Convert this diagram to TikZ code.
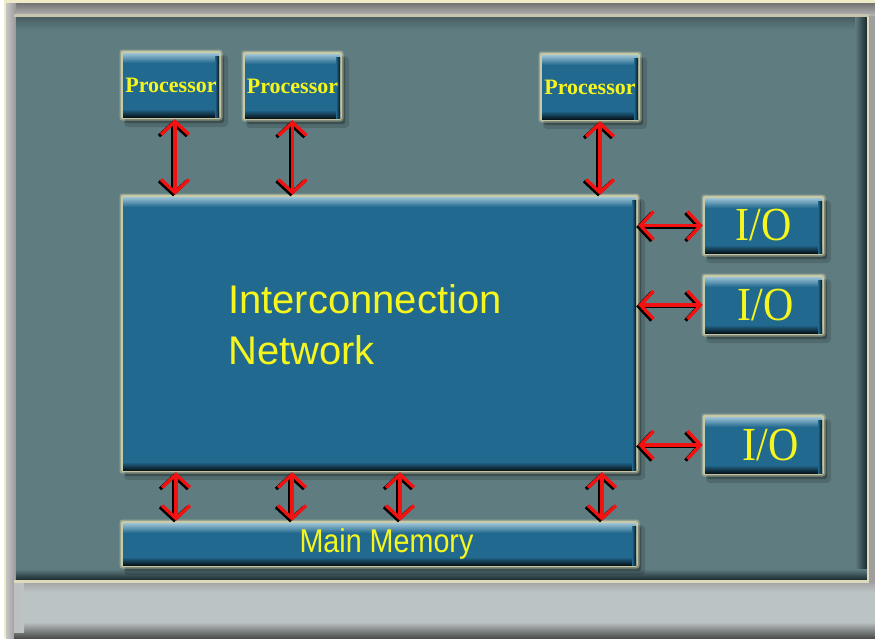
\documentclass[tikz,border=0pt]{standalone}
\usepackage{fontspec}
\setmainfont{Liberation Serif}
\newfontfamily\arialf{Liberation Sans}
\usetikzlibrary{arrows.meta}
\definecolor{panelc}{HTML}{5F7D81}
\definecolor{boxblue}{HTML}{21698F}
\definecolor{bevtop}{HTML}{9EC4D6}
\definecolor{bevbot}{HTML}{08151C}
\definecolor{glowc}{HTML}{D6D3AA}
\definecolor{txty}{HTML}{F6F61E}
\definecolor{arrred}{HTML}{F21212}
\definecolor{creamc}{HTML}{EFEBC8}
\definecolor{stripc}{HTML}{BCC3C5}
\definecolor{darkedge}{HTML}{1A292D}
\tikzset{
  arr/.style={draw=arrred,line width=3.4pt,shorten >=2pt,shorten <=2pt,
    {Straight Barb[length=13pt,width=28pt]}-{Straight Barb[length=13pt,width=28pt]}},
  arrshadow/.style={arr,draw=black,transform canvas={shift={(-2pt,-1.5pt)}}},
}
\newcommand\bbox[6]{%
  \fill[black,opacity=0.15,rounded corners=4pt] (#2+1,#3+2) rectangle (#4+9,#5+10);
  \fill[black,opacity=0.25,rounded corners=2pt] (#2+2,#3+3) rectangle (#4+5,#5+6);
  \fill[glowc,opacity=0.45,rounded corners=3pt] (#2-3.5,#3-3.5) rectangle (#4+3.5,#5+3.5);
  \fill[glowc,opacity=0.8,rounded corners=1.5pt] (#2-1.8,#3-1.8) rectangle (#4+1.8,#5+1.8);
  \fill[boxblue] (#2,#3) rectangle (#4,#5);
  \shade[top color=bevtop,bottom color=boxblue] (#2,#3) rectangle (#4,#3+10);
  \shade[top color=boxblue,bottom color=bevbot] (#2,#5-8) rectangle (#4,#5);
  \shade[left color=boxblue,right color=bevbot] (#4-4,#3+3) rectangle (#4,#5);
  \node[inner sep=0pt,minimum width={#4-#2},minimum height={#5-#3}] (#1) at ({(#2+#4)/2},{(#3+#5)/2}) {#6};
}
\newcommand\conn[2]{%
  \draw[arrshadow] #1 -- #2;
  \draw[arr] #1 -- #2;
}
\begin{document}
\begin{tikzpicture}[x=1pt,y=-1pt]
\useasboundingbox (0,0) rectangle (875,638);
\fill[white] (0,0) rectangle (875,638);
% outer frame
\fill[creamc] (4,0) rectangle (875,638);
\fill[gray!75] (6,3) rectangle (875,638);
\shade[top color=gray!90!black,bottom color=gray!60] (6,3) rectangle (875,15);
\shade[left color=gray!45,right color=gray!80] (6,3) rectangle (16,638);
\fill[gray!35!creamc] (14,14) rectangle (869,17);
% panel
\fill[panelc] (16,17) rectangle (867,580);
\shade[top color=panelc!75!black,bottom color=panelc] (16,17) rectangle (867,30);
\shade[left color=panelc,right color=darkedge] (855,17) rectangle (867,580);
\shade[top color=panelc,bottom color=darkedge] (16,569) rectangle (867,580);
\fill[creamc!85!gray] (867,17) rectangle (869,583);
\fill[creamc!85!gray] (14,580) rectangle (869,583);
% lower strip
\shade[top color=gray!70,bottom color=stripc] (14,583) rectangle (875,592);
\fill[stripc] (14,592) rectangle (875,622);
\shade[top color=stripc,bottom color=black!70] (14,622) rectangle (875,638);
\shade[left color=gray!50,right color=stripc] (14,583) rectangle (24,632);

% boxes
\bbox{p1}{123}{53}{219}{117}{\textcolor{txty}{\bfseries\fontsize{22}{22}\selectfont Processor}}
\bbox{p2}{245}{54}{340}{118}{\textcolor{txty}{\bfseries\fontsize{22}{22}\selectfont Processor}}
\bbox{p3}{542}{55}{638}{119}{\textcolor{txty}{\bfseries\fontsize{22}{22}\selectfont Processor}}
\bbox{net}{123}{197}{636}{470}{}
\bbox{io1}{705}{198}{822}{253}{\textcolor{txty}{\fontsize{42}{42}\selectfont\scalebox{1}[1.13]{I/O}}}
\bbox{io2}{705}{277}{822}{333}{\textcolor{txty}{\fontsize{42}{42}\selectfont\kern4pt\scalebox{1}[1.13]{I/O}}}
\bbox{io3}{705}{417}{822}{473}{\textcolor{txty}{\fontsize{42}{42}\selectfont\kern14pt\scalebox{1}[1.13]{I/O}}}
\bbox{mem}{123}{523}{636}{565}{\textcolor{txty}{\arialf\fontsize{33}{33}\selectfont\kern14pt\scalebox{0.87}[1]{Main Memory}}}

\node[anchor=north west,inner sep=0pt,align=left,text=txty,
  font=\arialf\fontsize{40}{51}\selectfont] (nettext) at (228,284)
  {Interconnection\\Network};

% connectors
\conn{([xshift=4pt]p1.south)}{([xshift=4pt]p1.south |- net.north)}
\conn{(p2.south)}{(p2.south |- net.north)}
\conn{([xshift=10pt]p3.south)}{([xshift=10pt]p3.south |- net.north)}
\coordinate (b1) at (176,0);
\coordinate (b2) at (292,0);
\coordinate (b3) at (400,0);
\coordinate (b4) at (602,0);
\conn{(net.south -| b1)}{(mem.north -| b1)}
\conn{(net.south -| b2)}{(mem.north -| b2)}
\conn{(net.south -| b3)}{(mem.north -| b3)}
\conn{(net.south -| b4)}{(mem.north -| b4)}
\conn{(net.east |- io1.west)}{(io1.west)}
\conn{(net.east |- io2.west)}{(io2.west)}
\conn{(net.east |- io3.west)}{(io3.west)}
\end{tikzpicture}
\end{document}
